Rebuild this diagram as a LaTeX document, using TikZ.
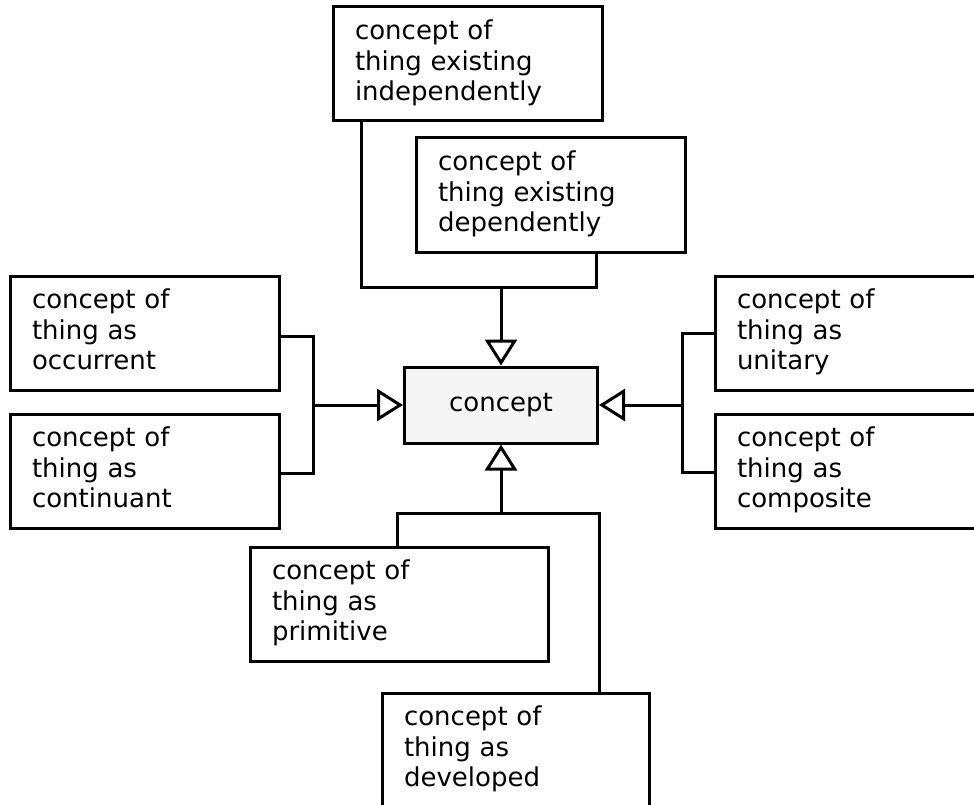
\documentclass[tikz,border=0pt]{standalone}
\usepackage{fontspec}
\setmainfont{DejaVu Sans}
\usetikzlibrary{arrows.meta}
\begin{document}
\begin{tikzpicture}[x=1pt,y=-1pt,
  every node/.style={font=\fontsize{26}{30.5}\selectfont},
  cbox/.style={draw, line width=3pt, anchor=north west, outer sep=0pt,
    minimum height=114pt, text width=#1, inner xsep=22pt, inner ysep=0pt, align=left},
  link/.style={line width=3pt},
  gen/.style={line width=3pt, -{Triangle[open, length=26pt, width=32pt]}}
]
\clip (0,0) rectangle (974,805);
\node[cbox=225pt] (indep) at (333,7) {\strut concept of\\thing existing\\independently\strut};
\node[cbox=225pt] (dep) at (416,138) {\strut concept of\\thing existing\\dependently\strut};
\node[cbox=225pt] (occ) at (10,276) {\strut concept of\\thing as\\occurrent\strut};
\node[cbox=225pt] (cont) at (10,414) {\strut concept of\\thing as\\continuant\strut};
\node[cbox=225pt] (unit) at (715,276) {\strut concept of\\thing as\\unitary\strut};
\node[cbox=225pt] (comp) at (715,414) {\strut concept of\\thing as\\composite\strut};
\node[cbox=254pt] (prim) at (250,547) {\strut concept of\\thing as\\primitive\strut};
\node[cbox=223pt] (dev) at (382,693) {\strut concept of\\thing as\\developed\strut};
\node[draw, line width=3pt, fill=gray!8, minimum width=193pt, minimum height=76pt] (concept) at (501,405) {concept};
\coordinate (jt) at (501,287);
\coordinate (jl) at (313,405);
\coordinate (jr) at (682,405);
\coordinate (jb) at (501,513);
\draw[link] (indep.south west) ++(28,0) |- (jt);
\draw[link] (dep.south west) ++(180,0) |- (jt);
\draw[gen] (jt) -- (concept.north);
\draw[link] (occ.east) ++(0,3) -| (jl);
\draw[link] (cont.east) ++(0,2) -| (jl);
\draw[gen] (jl) -- (concept.west);
\draw[link] (unit.west) -| (jr);
\draw[link] (comp.west) ++(0,1) -| (jr);
\draw[gen] (jr) -- (concept.east);
\draw[link] (prim.north west) ++(147,0) |- (jb);
\draw[link] (dev.north west) ++(217,0) |- (jb);
\draw[gen] (jb) -- (concept.south);
\end{tikzpicture}
\end{document}
